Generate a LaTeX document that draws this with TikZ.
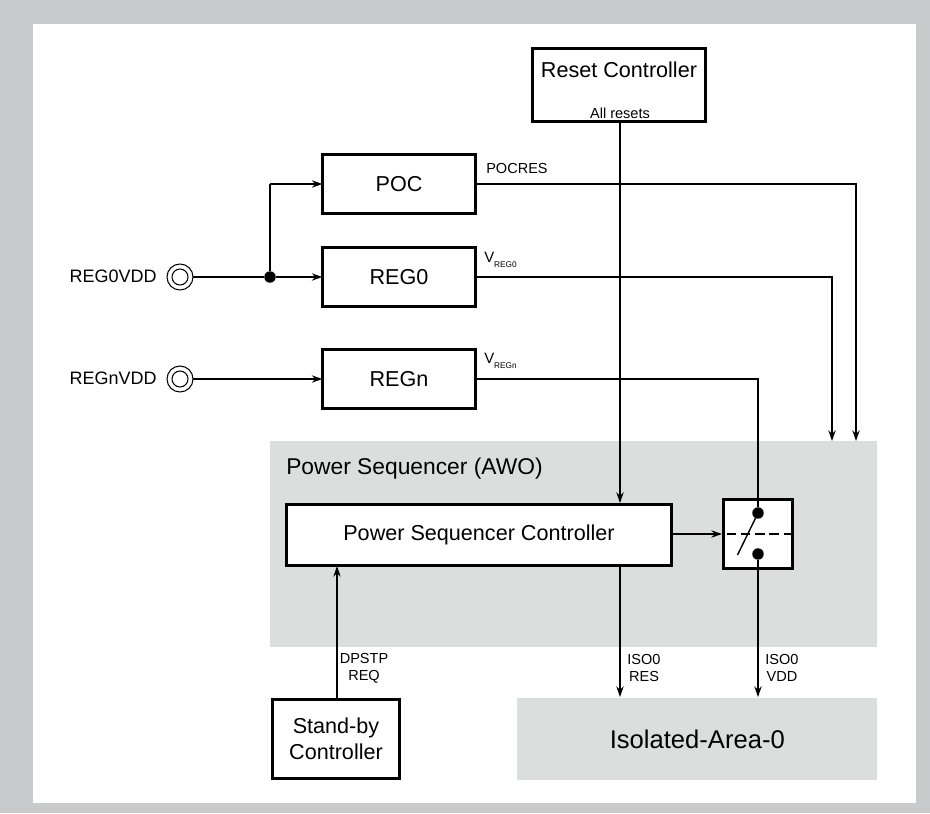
\documentclass[tikz,border=0pt]{standalone}
\usepackage{fontspec}
\setmainfont{Liberation Sans}
\usetikzlibrary{arrows.meta}
\definecolor{frame}{HTML}{C9CACB}
\definecolor{area}{HTML}{DCDEDD}
\tikzset{
  x=0.75pt,y=-0.75pt,
  blockbox/.style={draw=black,line width=2.1pt,fill=white,inner sep=0pt,outer sep=0pt,font=\fontsize{16.2}{19.5}\selectfont,align=center},
  zone/.style={fill=area,draw=none},
  wire/.style={line width=1.05pt,draw=black},
  arrowwire/.style={wire,-{Stealth[length=8pt,width=5.5pt]}},
  lab/.style={font=\fontsize{10.9}{13}\selectfont,inner sep=0pt,align=center},
  pinlab/.style={font=\fontsize{13.5}{16}\selectfont,inner sep=0pt,anchor=east},
  pin/.style={circle,draw=black,line width=0.8pt,fill=white,minimum size=19.5pt,inner sep=0pt,outer sep=0pt},
  pininner/.style={circle,draw=black,line width=0.8pt,fill=white,minimum size=12pt,inner sep=0pt},
  junction/.style={circle,fill=black,minimum size=8.6pt,inner sep=0pt,outer sep=0pt}
}
\newcommand{\boxat}[6]{\node[blockbox,minimum width=#4*0.75pt-2.1pt,minimum height=#5*0.75pt-2.1pt,anchor=north west] (#1) at ([xshift=1.05pt,yshift=-1.05pt]#2,#3) {#6};}
\begin{document}
\begin{tikzpicture}
\useasboundingbox (0,0) rectangle (930,813);
\fill[frame] (0,0) rectangle (930,813);
\fill[white] (33,24) rectangle (916,803);
% areas
\node[zone,minimum width=607*0.75pt,minimum height=206*0.75pt,anchor=north west,inner sep=0pt] (pwr) at (270,441) {};
\node[zone,minimum width=360*0.75pt,minimum height=82*0.75pt,anchor=north west,inner sep=0pt,font=\fontsize{19.2}{23}\selectfont] (iso) at (517,698) {\hspace*{0pt}Isolated-Area-0};
\node[inner sep=0pt,anchor=base west,font=\fontsize{17.1}{20}\selectfont] (pwrlab) at (286,474) {Power Sequencer (AWO)};
% blocks
\boxat{reset}{531}{47}{176}{76}{}
\node[inner sep=0pt,font=\fontsize{16.2}{19}\selectfont,anchor=base] (resetlab) at (619,78) {Reset Controller};
\node[lab,anchor=base] (allres) at (620,118) {All resets};
\boxat{poc}{321}{153}{156}{62}{POC}
\boxat{reg0}{321}{246}{156}{62}{REG0}
\boxat{regn}{321}{348}{156}{62}{REGn}
\boxat{psc}{285}{503}{388}{64}{Power Sequencer Controller}
\boxat{sw}{722}{498}{72}{72}{}
\boxat{stby}{271}{698}{130}{82}{Stand-by\\Controller}
% pins
\node[pin] (p0) at (180,277) {};
\node[pininner] (p0i) at (180,277) {};
\node[pin] (pn) at (180,379) {};
\node[pininner] (pni) at (180,379) {};
\node[pinlab] (p0l) at (157,276) {REG0VDD};
\node[pinlab] (pnl) at (157,378) {REGnVDD};
% junctions and coordinates
\node[junction] (j) at (270,277) {};
\node[junction] (s1) at (758,513) {};
\node[junction] (s2) at (758,554) {};
\coordinate (c1) at (270,184);
\coordinate (a1) at (856,184);
\coordinate (a1e) at (856,441);
\coordinate (a2) at (832,277);
\coordinate (a2e) at (832,441);
\coordinate (a3) at (758,379);
\coordinate (rs) at (620,123);
\coordinate (re) at (620,503);
\coordinate (is1) at (620,566);
\coordinate (is2) at (620,697);
\coordinate (is3) at (758,697);
\coordinate (st) at (337,698);
\coordinate (se) at (337,566);
\coordinate (swl) at (722,534);
\coordinate (psr) at (672,534);
\coordinate (swa) at (737.5,555);
\coordinate (d1) at (727,534);
\coordinate (d2) at (791,534);
% connectors
\draw[wire] (p0) -- (j);
\draw[arrowwire] (j) -- (reg0.west);
\draw[wire] (j) -- (c1);
\draw[arrowwire] (c1) -- (poc.west);
\draw[arrowwire] (pn) -- (regn.west);
\draw[arrowwire] (poc.east |- a1) -- (a1) -- (a1e);
\draw[arrowwire] (reg0.east |- a2) -- (a2) -- (a2e);
\draw[wire] (regn.east |- a3) -- (a3) -- (s1);
\draw[arrowwire] (rs) -- (re);
\draw[arrowwire] (is1) -- (is2);
\draw[arrowwire] (s2) -- (is3);
\draw[arrowwire] (st) -- (se);
\draw[arrowwire] (psr) -- (swl);
\draw[wire] (s1) -- (swa);
\draw[line width=1.05pt,dash pattern=on 7pt off 3.6pt] (d1) -- (d2);
% labels
\node[lab,anchor=base west] (l1) at (486,173) {POCRES};
\node[anchor=base west,inner sep=0pt,font=\fontsize{11.2}{12}\selectfont] (l2) at (484,262) {V\raisebox{-3.9pt}{\fontsize{6.2}{7}\selectfont REG0}};
\node[anchor=base west,inner sep=0pt,font=\fontsize{11.2}{12}\selectfont] (l3) at (484,363) {V\raisebox{-3.9pt}{\fontsize{6.2}{7}\selectfont REGn}};
\node[lab] (l4) at (364,668) {DPSTP\\REQ};
\node[lab] (l5) at (644,668) {ISO0\\RES};
\node[lab] (l6) at (782,668) {ISO0\\VDD};
\end{tikzpicture}
\end{document}
